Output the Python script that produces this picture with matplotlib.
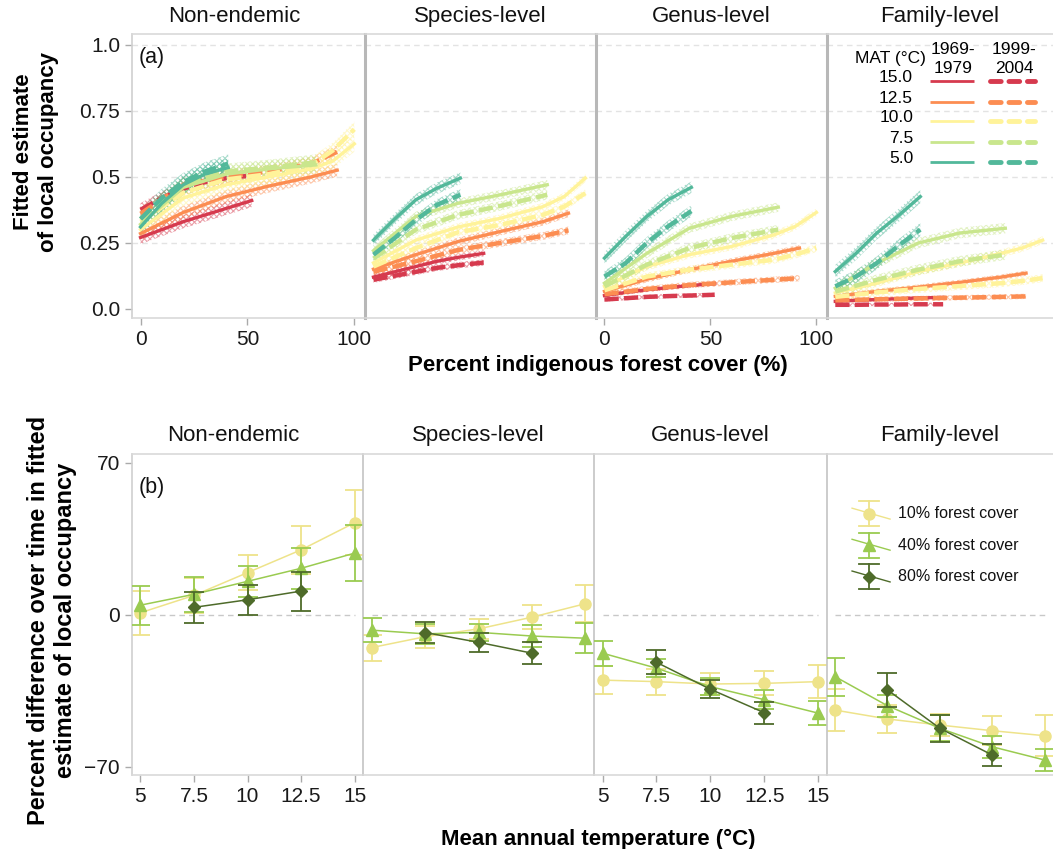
import numpy as np
import matplotlib
matplotlib.use("Agg")
import matplotlib.pyplot as plt

plt.rcParams['font.family'] = ['Liberation Sans', 'DejaVu Sans']
plt.rcParams['hatch.linewidth'] = 0.8

# ---------------- data: panel (a) ----------------
panels = ["Non-endemic", "Species-level", "Genus-level", "Family-level"]
mat_labels = ["15.0", "12.5", "10.0", "7.5", "5.0"]
mat_colors = ["#d63a4e", "#fc8d52", "#fff39a", "#c9e68d", "#52b89a"]
periods = ["1969-\n1979", "1999-\n2004"]

cover_15 = [0, 10, 20, 30, 40, 52]
cover_12 = [0, 20, 40, 60, 80, 92]
cover_10 = [0, 20, 40, 60, 80, 90, 100]
cover_7 = [0, 20, 40, 60, 82]
cover_5 = [0, 10, 20, 30, 41]
covers = [cover_15, cover_12, cover_10, cover_7, cover_5]

# fitted occupancy, rows follow mat_labels
nonend_early = [[0.27, 0.30, 0.33, 0.355, 0.38, 0.41],
                [0.285, 0.365, 0.425, 0.465, 0.50, 0.525],
                [0.30, 0.42, 0.47, 0.50, 0.53, 0.56, 0.625],
                [0.32, 0.46, 0.51, 0.53, 0.545],
                [0.31, 0.40, 0.47, 0.51, 0.535]]
nonend_late = [[0.375, 0.42, 0.455, 0.48, 0.495, 0.505],
               [0.36, 0.47, 0.50, 0.52, 0.55, 0.595],
               [0.33, 0.44, 0.49, 0.51, 0.545, 0.60, 0.68],
               [0.34, 0.47, 0.52, 0.535, 0.555],
               [0.34, 0.42, 0.48, 0.52, 0.55]]
species_early = [[0.12, 0.14, 0.16, 0.18, 0.195, 0.21],
                 [0.15, 0.205, 0.255, 0.293, 0.33, 0.362],
                 [0.174, 0.26, 0.31, 0.343, 0.387, 0.425, 0.495],
                 [0.22, 0.35, 0.40, 0.432, 0.47],
                 [0.26, 0.34, 0.413, 0.457, 0.495]]
species_late = [[0.11, 0.125, 0.14, 0.155, 0.165, 0.175],
                [0.14, 0.18, 0.223, 0.25, 0.276, 0.297],
                [0.16, 0.23, 0.29, 0.318, 0.356, 0.387, 0.438],
                [0.19, 0.30, 0.356, 0.39, 0.432],
                [0.205, 0.268, 0.337, 0.394, 0.432]]
genus_early = [[0.05, 0.062, 0.072, 0.08, 0.088, 0.095],
               [0.066, 0.112, 0.148, 0.18, 0.21, 0.23],
               [0.085, 0.16, 0.205, 0.236, 0.28, 0.312, 0.365],
               [0.097, 0.21, 0.305, 0.35, 0.385],
               [0.192, 0.274, 0.35, 0.413, 0.46]]
genus_late = [[0.035, 0.04, 0.045, 0.048, 0.05, 0.053],
              [0.055, 0.075, 0.09, 0.10, 0.11, 0.116],
              [0.07, 0.122, 0.148, 0.167, 0.186, 0.205, 0.23],
              [0.085, 0.167, 0.23, 0.268, 0.30],
              [0.122, 0.173, 0.25, 0.312, 0.37]]
family_early = [[0.028, 0.032, 0.035, 0.038, 0.041, 0.043],
                [0.047, 0.066, 0.082, 0.10, 0.12, 0.135],
                [0.06, 0.097, 0.141, 0.173, 0.21, 0.23, 0.26],
                [0.078, 0.173, 0.249, 0.287, 0.305],
                [0.141, 0.21, 0.287, 0.35, 0.425]]
family_late = [[0.015, 0.015, 0.016, 0.016, 0.017, 0.017],
               [0.032, 0.036, 0.039, 0.042, 0.045, 0.047],
               [0.045, 0.062, 0.075, 0.086, 0.097, 0.105, 0.116],
               [0.065, 0.11, 0.148, 0.18, 0.205],
               [0.085, 0.122, 0.173, 0.236, 0.30]]
# half width of the confidence bands
ci_nonend = [0.025, 0.025, 0.03, 0.03, 0.035]
ci_species = [0.012, 0.015, 0.015, 0.018, 0.022]
ci_genus = [0.008, 0.012, 0.015, 0.018, 0.022]
ci_family = [0.006, 0.01, 0.015, 0.02, 0.025]

top_early = [nonend_early, species_early, genus_early, family_early]
top_late = [nonend_late, species_late, genus_late, family_late]
top_ci = [ci_nonend, ci_species, ci_genus, ci_family]

# ---------------- data: panel (b) ----------------
temps = [5, 7.5, 10, 12.5, 15]
temps_80 = [7.5, 10, 12.5]
cover_labels = ["10% forest cover", "40% forest cover", "80% forest cover"]
cover_colors = ["#eee38a", "#9acb50", "#4e6b2a"]
cover_markers = ["o", "^", "D"]

diff10 = [[1, 9, 19.5, 30, 42.5],
          [-15, -10, -6.4, -1, 5.2],
          [-30, -30.7, -31.8, -31.5, -30.7],
          [-43.8, -47.9, -50.7, -53.3, -55.6]]
err10 = [[10, 8, 8, 11, 15],
         [6, 5, 4.5, 5.5, 8.5],
         [6.5, 6, 5, 5.5, 7.5],
         [9.5, 6.5, 5, 6.8, 9.5]]
diff40 = [[4.5, 9.5, 15.5, 21.5, 28.5],
          [-7, -8.7, -8, -9.7, -10.7],
          [-17.6, -24.5, -33, -39, -45.2],
          [-28.4, -41.8, -52.2, -60.7, -66.8]]
err40 = [[9, 8, 7, 9.5, 13],
         [5.5, 4.5, 4, 5, 7],
         [5.7, 4, 4, 4.5, 5.5],
         [8.7, 5, 6, 5, 5]]
diff80 = [[3.5, 7, 11],
          [-8.1, -12.6, -17.6],
          [-21.8, -34.2, -45],
          [-34.5, -52.2, -64.5]]
err80 = [[7, 7, 9],
         [5, 4.5, 5],
         [5.5, 4.2, 5],
         [7.7, 6.2, 5]]

W, H = 1053, 849
fig = plt.figure(figsize=(W / 100, H / 100), dpi=100)

def add_px_axes(x0, x1, y0, y1):
    return fig.add_axes([x0 / W, 1 - y1 / H, (x1 - x0) / W, (y1 - y0) / H])

def frame(ax, i, sep_w, sep_c):
    for s in ['top', 'bottom']:
        ax.spines[s].set_color('#d9d9d9')
        ax.spines[s].set_linewidth(1.2)
    ax.spines['right'].set_visible(False)
    if i == 0:
        ax.spines['left'].set_color('#d0d0d0')
        ax.spines['left'].set_linewidth(1.2)
    else:
        ax.spines['left'].set_color(sep_c)
        ax.spines['left'].set_linewidth(sep_w)
    ax.tick_params(colors='#aaaaaa', labelcolor='#1a1a1a', length=5, width=1)

def panel_title(ax, i, name):
    # the first facet label sits a little left of the panel centre
    xpos = 0.44 if i == 0 else 0.5
    ax.text(xpos, 1.025, name, transform=ax.transAxes, ha='center', va='bottom',
            fontsize=16, color='#111111')

# ---------------- top row ----------------
top_edges = [132, 365, 596, 827, 1053]
for i, name in enumerate(panels):
    ax = add_px_axes(top_edges[i], top_edges[i + 1], 34.3, 318)
    for g in [0.25, 0.5, 0.75, 1.0]:
        ax.axhline(g, color='#e3e3e3', lw=1, ls=(0, (4, 3)), zorder=0)
    for j in range(len(mat_labels)):
        x = np.array(covers[j])
        for p, data in enumerate([top_early[i], top_late[i]]):
            y = np.array(data[j])
            ci = top_ci[i][j]
            ax.fill_between(x, y - ci, y + ci, facecolor='none',
                            edgecolor=mat_colors[j], hatch='xxxxxx', lw=0, alpha=0.5)
            if p == 0:
                ax.plot(x, y, color=mat_colors[j], lw=2.4)
            else:
                ax.plot(x, y, color=mat_colors[j], lw=3.2, dashes=(3.2, 1.2))
    ax.set_xlim(-4, 105)
    ax.set_ylim(-0.035, 1.04)
    frame(ax, i, 2.2, '#b8b8b8')
    panel_title(ax, i, name)
    if i in (0, 2):
        ax.set_xticks([0, 50, 100])
        ax.tick_params(axis='x', labelsize=15)
    else:
        ax.set_xticks([])
    if i == 0:
        ax.set_yticks([0, 0.25, 0.5, 0.75, 1.0])
        ax.set_yticklabels(['0.0', '0.25', '0.5', '0.75', '1.0'])
        ax.tick_params(axis='y', labelsize=15)
        ax.text(0.03, 0.955, "(a)", transform=ax.transAxes, fontsize=15.5,
                va='top', color='#111111')
    else:
        ax.set_yticks([])
    if i == 3:
        # custom legend: MAT x period
        ax.text(0.279, 0.913, "MAT (°C)", transform=ax.transAxes,
                ha='center', va='center', fontsize=12.5)
        ax.text(0.558, 0.913, periods[0], transform=ax.transAxes,
                ha='center', va='center', fontsize=12.5, linespacing=1.35)
        ax.text(0.827, 0.913, periods[1], transform=ax.transAxes,
                ha='center', va='center', fontsize=12.5, linespacing=1.35)
        row_y = [0.847, 0.774, 0.706, 0.633, 0.563]
        for j, lab in enumerate(mat_labels):
            ax.text(0.381, row_y[j], lab, transform=ax.transAxes,
                    ha='right', va='center', fontsize=12.5)
            ax.plot([0.456, 0.650], [row_y[j] - 0.012] * 2, color=mat_colors[j],
                    lw=2, transform=ax.transAxes, solid_capstyle='butt')
            ax.plot([0.721, 0.920], [row_y[j] - 0.012] * 2, color=mat_colors[j],
                    lw=3.5, dashes=(2.2, 1.6), transform=ax.transAxes,
                    dash_capstyle='round')

fig.text(598 / W, 1 - 366 / H, "Percent indigenous forest cover (%)",
         ha='center', va='center', fontsize=16, fontweight='bold')
fig.text(36 / W, 1 - 152 / H, "Fitted estimate\nof local occupancy", rotation=90,
         ha='center', va='center', fontsize=16, fontweight='bold')

# ---------------- bottom row ----------------
bot_edges = [131.7, 363.3, 594, 826.7, 1053]
for i, name in enumerate(panels):
    ax = add_px_axes(bot_edges[i], bot_edges[i + 1], 454.3, 775)
    ax.hlines(0, temps[0], temps[-1], color='#c8c8c8', lw=1, linestyles=(0, (4, 3)), zorder=0)
    series = [(temps, diff10[i], err10[i]), (temps, diff40[i], err40[i]),
              (temps_80, diff80[i], err80[i])]
    sizes = [8, 9, 6]
    for k, (tx, ty, te) in enumerate(series):
        ax.plot(tx, ty, color=cover_colors[k], lw=1.1, zorder=2 + k)
        ax.errorbar(tx, ty, yerr=te, fmt=cover_markers[k], color=cover_colors[k],
                    ms=sizes[k], capsize=7, elinewidth=1.3, capthick=1.3, zorder=2 + k)
    ax.set_xlim(4.6, 15.4)
    ax.set_ylim(-73.7, 74)
    frame(ax, i, 1.2, '#c4c4c4')
    panel_title(ax, i, name)
    if i in (0, 2):
        ax.set_xticks(temps)
        ax.set_xticklabels(['5', '7.5', '10', '12.5', '15'])
        ax.tick_params(axis='x', labelsize=15)
    else:
        ax.set_xticks([])
    if i == 0:
        ax.set_yticks([-70, 0, 70])
        ax.set_yticklabels(['\u221270', '0', '70'])
        ax.tick_params(axis='y', labelsize=15)
        ax.text(0.03, 0.93, "(b)", transform=ax.transAxes, fontsize=15.5,
                va='top', color='#111111')
    else:
        ax.set_yticks([])
    if i == 3:
        leg_y = [0.814, 0.717, 0.618]
        for k, lab in enumerate(cover_labels):
            y0 = leg_y[k]
            c = cover_colors[k]
            kw = dict(transform=ax.transAxes, color=c, clip_on=False)
            ax.plot([0.112, 0.280], [y0 + 0.018, y0 - 0.016], lw=1, **kw)
            ax.plot([0.187, 0.187], [y0 - 0.039, y0 + 0.039], lw=1.3, **kw)
            ax.plot([0.143, 0.231], [y0 + 0.039] * 2, lw=1.3, **kw)
            ax.plot([0.143, 0.231], [y0 - 0.039] * 2, lw=1.3, **kw)
            ax.plot([0.187], [y0], marker=cover_markers[k], ms=sizes[k], ls='none', **kw)
            ax.text(0.315, y0, lab, transform=ax.transAxes, ha='left',
                    va='center', fontsize=11.5, color='#111111')

fig.text(598 / W, 1 - 839 / H, "Mean annual temperature (°C)",
         ha='center', va='center', fontsize=16, fontweight='bold')
fig.text(52 / W, 1 - 620 / H,
         "Percent difference over time in fitted\nestimate of local occupancy",
         rotation=90, ha='center', va='center', fontsize=17, fontweight='bold')

fig.savefig("out.png", dpi=100)
